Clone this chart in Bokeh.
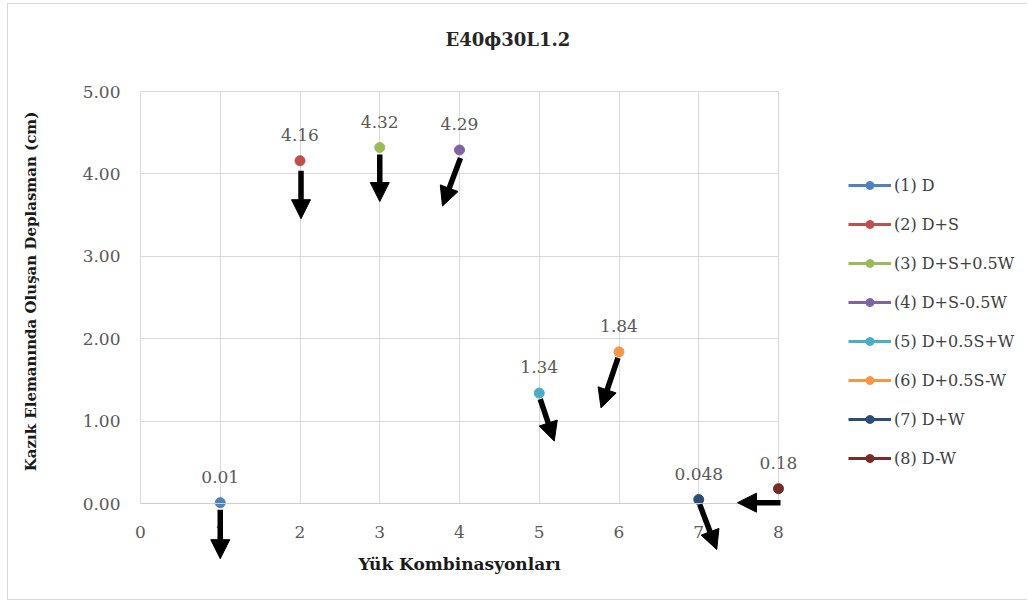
import math
from bokeh.plotting import figure
from bokeh.models import (Range1d, FixedTicker, Legend, LegendItem, Arrow,
                          NormalHead, PrintfTickFormatter)
from bokeh.core.properties import value
from bokeh.embed import file_html
from bokeh.resources import INLINE

# Load combinations and pile-element displacement (cm)
combos = [1, 2, 3, 4, 5, 6, 7, 8]
combo_names = ["(1) D", "(2) D+S", "(3) D+S+0.5W", "(4) D+S-0.5W",
               "(5) D+0.5S+W", "(6) D+0.5S-W", "(7) D+W", "(8) D-W"]
displacement = [0.01, 4.16, 4.32, 4.29, 1.34, 1.84, 0.048, 0.18]
value_labels = ["0.01", "4.16", "4.32", "4.29", "1.34", "1.84", "0.048", "0.18"]
colors = ["#4F81BD", "#C0504D", "#9BBB59", "#8064A2",
          "#4BACC6", "#F79646", "#2C4D75", "#772C2A"]
x_ticks = [0, 1, 2, 3, 4, 5, 6, 7, 8]
y_ticks = [0, 1, 2, 3, 4, 5]

# Direction arrows next to each point: (start dx, start dy, tip dx, tip dy) in pixels,
# y measured downward on screen
arrow_px = [(0, 7, 0, 56), (1, 10, 1, 58), (0, 7, 0, 54), (1, 8, -17, 56),
            (1, 6, 15, 48), (-1, 6, -18, 56), (1, 5, 18, 50), (2, 14, -41, 14)]

FONT = "DejaVu Serif"
GREY = "#595959"
GRID = "#d9d9d9"

# Canvas geometry (pixels). The frame covers the whole canvas below the title so
# that the arrows, labels and legend around the plotting area are never clipped.
fig_w, fig_h = 1020, 597
top_border = 60
frame_h = fig_h - top_border
# plotting area (x 0..8, y 0..5) inside the frame
area_left, area_right = 132, 770
area_top, area_bottom = 27, 439
px_x = (area_right - area_left) / 8.0
px_y = (area_bottom - area_top) / 5.0

x_range = Range1d(-area_left / px_x, (fig_w - area_left) / px_x)
y_range = Range1d(-(frame_h - area_bottom) / px_y, area_bottom / px_y)

p = figure(width=fig_w, height=fig_h, output_backend="svg", toolbar_location=None,
           x_range=x_range, y_range=y_range,
           min_border_left=0, min_border_right=0, min_border_bottom=0,
           min_border_top=top_border, title="E40\u03d530L1.2")
p.styles = {"margin-left": "7px", "margin-top": "3px",
            "border-left": "1px solid #d9d9d9", "border-top": "1px solid #d9d9d9",
            "border-bottom": "1px solid #d9d9d9"}

p.outline_line_color = None
p.background_fill_color = "white"
p.border_fill_color = "white"

p.title.align = "left"
p.title.offset = 437
p.title.text_font = FONT
p.title.text_font_size = "18px"
p.title.text_font_style = "bold"
p.title.text_color = "#262626"
p.title.standoff = 29

# Axes pinned to the zero lines of the plotting area
p.xaxis.ticker = FixedTicker(ticks=x_ticks)
p.yaxis.ticker = FixedTicker(ticks=y_ticks)
p.yaxis.formatter = PrintfTickFormatter(format="%.2f")
p.xaxis.fixed_location = 0
p.yaxis.fixed_location = 0
p.xaxis.bounds = (0, 8)
p.yaxis.bounds = (0, 5)
for ax in (p.xaxis, p.yaxis):
    ax.major_tick_line_color = None
    ax.minor_tick_line_color = None
    ax.major_label_text_font = FONT
    ax.major_label_text_font_size = "17px"
    ax.major_label_text_color = GREY
p.yaxis.axis_line_color = None
p.xaxis.axis_line_color = "#cfcfcf"
p.xaxis.major_label_standoff = 16
p.yaxis.major_label_standoff = 14

p.xgrid.ticker = FixedTicker(ticks=x_ticks)
p.ygrid.ticker = FixedTicker(ticks=y_ticks)
p.xgrid.bounds = (0, 8)
p.xgrid.cross_bounds = (0, 5)
p.ygrid.bounds = (0, 5)
p.ygrid.cross_bounds = (0, 8)
p.xgrid.grid_line_color = GRID
p.ygrid.grid_line_color = GRID

# Axis titles
p.text(x=[4], y=[0], text=["Yük Kombinasyonları"], text_align="center",
       text_baseline="middle", y_offset=60, text_font=value(FONT),
       text_font_size="17px", text_font_style="bold", text_color="#1a1a1a")
p.text(x=[0], y=[2.5], text=["Kazık Elemanında Oluşan Deplasman (cm)"],
       text_align="center", text_baseline="middle", angle=math.pi / 2,
       x_offset=-110, y_offset=-6, text_font=value(FONT), text_font_size="15px",
       text_font_style="bold", text_color="#1a1a1a")

# One series per load combination
items = []
for c, v, name, col in zip(combos, displacement, combo_names, colors):
    ln = p.line(x=[c], y=[v], line_color=col, line_width=3)
    sc = p.scatter(x=[c], y=[v], size=10, fill_color=col, line_color=col)
    items.append(LegendItem(label=name, renderers=[ln, sc]))

# Value labels above the points
p.text(x=combos, y=displacement, text=value_labels, text_align="center",
       text_baseline="middle", y_offset=-26, text_font=value(FONT),
       text_font_size="17px", text_color=GREY)

# Black direction arrows
for c, v, (dx0, dy0, dx1, dy1) in zip(combos, displacement, arrow_px):
    p.add_layout(Arrow(
        x_start=c + dx0 / px_x, y_start=v - dy0 / px_y,
        x_end=c + dx1 / px_x, y_end=v - dy1 / px_y,
        line_color="black", line_width=5.5,
        end=NormalHead(size=19, fill_color="black", line_color="black", line_width=1)))

legend = Legend(items=items, location=(840, 133), orientation="vertical",
                padding=0, margin=0, spacing=19, label_height=20, glyph_height=20,
                glyph_width=43, label_standoff=3,
                label_text_font=FONT, label_text_font_size="16px",
                label_text_color="#404040",
                border_line_color=None, background_fill_alpha=0)
p.add_layout(legend)

open("out.html", "w").write(file_html(p, INLINE))
